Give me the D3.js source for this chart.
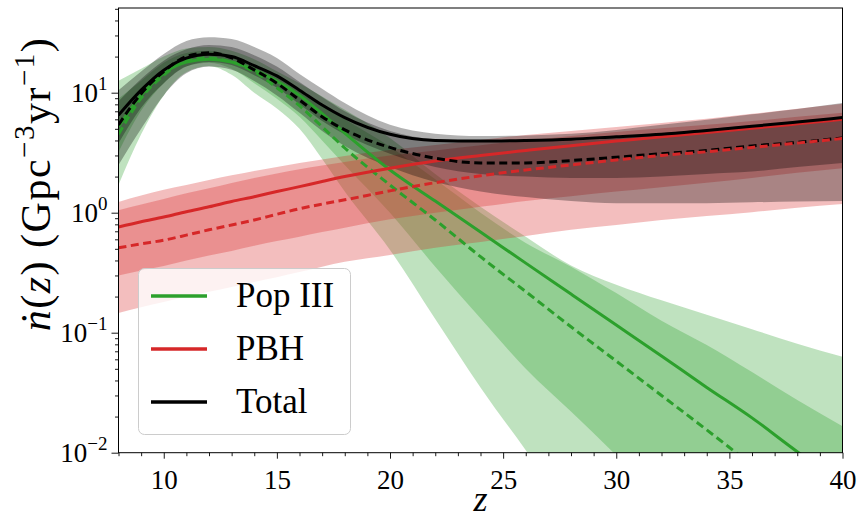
<!DOCTYPE html>
<html>
<head>
<meta charset="utf-8">
<script src="https://cdn.jsdelivr.net/npm/d3@7"></script>
<style>
  body { margin: 0; background: #fff; }
</style>
</head>
<body>
<svg id="chart" width="860" height="519"></svg>
<script>
// redshift grid the curves were read on
const zGrid = [8, 9, 10, 11, 12, 13, 14, 15, 16, 17, 18, 20, 22, 24, 26, 28, 30, 32, 34, 36, 38, 40];

// Pop III
const pop3Solid  = [5.2, 9.5, 14.5, 18, 19, 18, 15.5, 12.5, 9.5, 6.7, 4.6, 2.27, 1.25, 0.69, 0.38, 0.21, 0.116, 0.064, 0.035, 0.0195, 0.0102, 0.0056];
const pop3Dashed = [4.5, 9, 14, 18.5, 19.5, 18, 15, 11, 7.8, 5.2, 3.46, 1.7, 0.87, 0.43, 0.22, 0.112, 0.058, 0.030, 0.0155, 0.0079, 0.0041, 0.0021];
const pop3Lo68   = [3.2, 7.1, 12, 16.6, 17.8, 15.8, 12, 8.9, 6.3, 4.0, 2.5, 1.0, 0.355, 0.132, 0.05, 0.022, 0.0095, 0.004, 0.0016, 0.0006, 0.0003, 0.0001];
const pop3Hi68   = [8.9, 12.6, 17.8, 21.4, 22.4, 20.4, 17, 13.5, 10.5, 7.9, 6.0, 3.55, 1.9, 1.0, 0.56, 0.355, 0.214, 0.126, 0.079, 0.047, 0.0275, 0.0166];
const pop3Lo95   = [1.7, 4.5, 9.5, 14.8, 16.6, 14.1, 10, 7.4, 5.0, 2.8, 1.5, 0.49, 0.13, 0.035, 0.0105, 0.0032, 0.001, 0.0003, 0.0001, 0.0001, 0.0001, 0.0001];
const pop3Hi95   = [12.6, 15.8, 20, 23.4, 24, 22.4, 19, 15.1, 12, 9.3, 7.2, 4.2, 2.1, 1.12, 0.63, 0.363, 0.251, 0.186, 0.141, 0.107, 0.081, 0.063];

// PBH
const pbhSolid  = [0.76, 0.84, 0.92, 1.02, 1.12, 1.24, 1.36, 1.5, 1.65, 1.82, 2.0, 2.35, 2.7, 3.0, 3.3, 3.62, 3.95, 4.3, 4.65, 5.05, 5.5, 6.0];
const pbhDashed = [0.51, 0.55, 0.59, 0.65, 0.72, 0.79, 0.87, 0.97, 1.08, 1.18, 1.28, 1.52, 1.78, 2.03, 2.27, 2.5, 2.75, 3.0, 3.22, 3.5, 3.8, 4.15];
const pbhLo68   = [0.3, 0.33, 0.36, 0.4, 0.44, 0.48, 0.53, 0.58, 0.63, 0.69, 0.75, 0.88, 1.0, 1.12, 1.25, 1.37, 1.5, 1.63, 1.78, 1.95, 2.15, 2.35];
const pbhHi68   = [1.05, 1.17, 1.3, 1.45, 1.6, 1.77, 1.95, 2.12, 2.3, 2.47, 2.65, 3.0, 3.3, 3.65, 4.0, 4.35, 4.7, 5.05, 5.4, 5.8, 6.3, 6.8];
const pbhLo95   = [0.146, 0.163, 0.18, 0.2, 0.219, 0.24, 0.265, 0.29, 0.32, 0.355, 0.39, 0.445, 0.51, 0.57, 0.64, 0.72, 0.79, 0.87, 0.94, 1.01, 1.1, 1.18];
const pbhHi95   = [1.23, 1.39, 1.55, 1.7, 1.87, 2.05, 2.23, 2.4, 2.6, 2.78, 2.97, 3.33, 3.66, 4.04, 4.45, 4.8, 5.18, 5.6, 6.06, 6.67, 7.34, 8.08];

// Total
const totSolid  = [6.5, 10.5, 15.4, 19.4, 20.9, 20, 16.8, 13.8, 10.5, 7.9, 6.2, 4.5, 4.0, 3.95, 4.0, 4.1, 4.3, 4.5, 4.85, 5.25, 5.7, 6.2];
const totDashed = [5.4, 9.8, 15, 20, 21.5, 19.5, 15.5, 12, 8.7, 6.3, 4.9, 3.5, 2.85, 2.6, 2.6, 2.72, 2.9, 3.1, 3.3, 3.6, 3.85, 4.2];
const totLo68   = [3.8, 7.5, 12, 16.5, 18, 17, 14, 11, 8, 5.8, 4.5, 3.1, 2.4, 2.1, 2.0, 1.95, 1.95, 2.0, 2.1, 2.2, 2.4, 2.6];
const totHi68   = [8.5, 13, 18.5, 23, 25, 24, 20.5, 16.5, 12.3, 9.2, 7.0, 4.8, 4.1, 4.0, 4.05, 4.15, 4.35, 4.6, 4.95, 5.35, 5.8, 6.3];
const totLo95   = [2.5, 5, 9.5, 14.5, 16.5, 15.5, 12.5, 9.5, 6.8, 4.8, 3.6, 2.4, 1.8, 1.5, 1.35, 1.25, 1.2, 1.2, 1.2, 1.22, 1.24, 1.25];
const totHi95   = [10.5, 15, 21, 27, 29, 28, 24, 19.5, 14.3, 10.8, 8.2, 5.4, 4.55, 4.35, 4.4, 4.55, 4.9, 5.4, 5.95, 6.6, 7.3, 8.2];

const xMajor = [10, 15, 20, 25, 30, 35, 40];
const yMajor = [0.01, 0.1, 1, 10];
const yExp = ["\u22122", "\u22121", "0", "1"];
const legendNames = ["Pop III", "PBH", "Total"];

const GREEN = "#2ca02c", RED = "#d62728", BLACK = "#000000";
const FONT = "'Liberation Serif', 'DejaVu Serif', serif";

const svg = d3.select("#chart");
const mLeft = 118.5, mRight = 842.5, mTop = 8, mBottom = 452.7;

const x = d3.scaleLinear().domain([8, 40]).range([mLeft, mRight]);
const y = d3.scaleLog().domain([0.01, 50.8]).range([mBottom, mTop]);

svg.append("defs").append("clipPath").attr("id", "plotclip")
  .append("rect").attr("x", mLeft).attr("y", mTop)
  .attr("width", mRight - mLeft).attr("height", mBottom - mTop);

const plot = svg.append("g").attr("clip-path", "url(#plotclip)");

function rows(lo, hi) {
  return zGrid.map((z, i) => ({ z: z, lo: lo[i], hi: hi[i] }));
}
function pts(vals) {
  return zGrid.map((z, i) => ({ z: z, v: vals[i] }));
}

const area = d3.area()
  .x(d => x(d.z)).y0(d => y(d.lo)).y1(d => y(d.hi))
  .curve(d3.curveMonotoneX);
const line = d3.line()
  .x(d => x(d.z)).y(d => y(d.v))
  .curve(d3.curveMonotoneX);

// bands: 95% then 68%, each at alpha 0.3
const bands = [
  [pop3Lo95, pop3Hi95, GREEN], [pop3Lo68, pop3Hi68, GREEN],
  [pbhLo95, pbhHi95, RED], [pbhLo68, pbhHi68, RED],
  [totLo95, totHi95, BLACK], [totLo68, totHi68, BLACK]
];
bands.forEach(b => {
  plot.append("path").datum(rows(b[0], b[1]))
    .attr("d", area).attr("fill", b[2]).attr("fill-opacity", 0.3);
});

const lines = [
  [pop3Solid, GREEN, null], [pop3Dashed, GREEN, "8,4.5"],
  [pbhSolid, RED, null], [totSolid, BLACK, null],
  [totDashed, BLACK, "8,4.5"], [pbhDashed, RED, "8,4.5"]
];
lines.forEach(l => {
  plot.append("path").datum(pts(l[0]))
    .attr("d", line).attr("fill", "none")
    .attr("stroke", l[1]).attr("stroke-width", 3)
    .attr("stroke-dasharray", l[2]);
});

// x axis
const xMinor = d3.range(8, 41).filter(v => !xMajor.includes(v));
svg.append("g").attr("transform", `translate(0,${mBottom})`)
  .call(d3.axisBottom(x).tickValues(xMinor).tickSize(3.5).tickSizeOuter(0).tickFormat(""))
  .call(g => g.select(".domain").remove());
const gx = svg.append("g").attr("transform", `translate(0,${mBottom})`)
  .call(d3.axisBottom(x).tickValues(xMajor).tickSize(6).tickSizeOuter(0).tickPadding(6))
  .call(g => g.select(".domain").remove());
gx.selectAll("text").attr("font-size", 27).attr("fill", "#000").attr("dy", "0.9em");

// y axis
const yMinor = [];
[0.01, 0.1, 1, 10].forEach(d => { for (let k = 2; k <= 9; k++) if (d * k <= 50.8) yMinor.push(d * k); });
svg.append("g").attr("transform", `translate(${mLeft},0)`)
  .call(d3.axisLeft(y).tickValues(yMinor).tickSize(3.5).tickSizeOuter(0).tickFormat(""))
  .call(g => g.select(".domain").remove());
const gy = svg.append("g").attr("transform", `translate(${mLeft},0)`)
  .call(d3.axisLeft(y).tickValues(yMajor).tickSize(7).tickSizeOuter(0).tickFormat(""))
  .call(g => g.select(".domain").remove());
gy.selectAll(".tick").each(function(d, i) {
  const t = d3.select(this).append("text")
    .attr("x", -11).attr("y", 9).attr("text-anchor", "end")
    .attr("font-size", 27).attr("fill", "#000");
  t.append("tspan").text("10");
  t.append("tspan").attr("font-size", 19).attr("dy", -12).text(yExp[i]);
});
svg.selectAll(".tick line").attr("stroke", "#000").attr("stroke-width", 0.9);

// frame
svg.append("rect").attr("x", mLeft).attr("y", mTop)
  .attr("width", mRight - mLeft).attr("height", mBottom - mTop)
  .attr("fill", "none").attr("stroke", "#000").attr("stroke-width", 1);

// axis labels
svg.append("text").attr("x", (mLeft + mRight) / 2).attr("y", 511)
  .attr("text-anchor", "middle").attr("font-size", 36).attr("font-style", "italic").text("z");

const yl = svg.append("text").attr("transform", "translate(50,184) rotate(-90)")
  .attr("text-anchor", "middle").attr("font-size", 42).attr("letter-spacing", 1.5);
yl.append("tspan").attr("font-style", "italic").text("\u1E45");
yl.append("tspan").text("(");
yl.append("tspan").attr("font-style", "italic").text("z");
yl.append("tspan").text(") (Gpc");
yl.append("tspan").attr("font-size", 29).attr("dy", -16).text("\u22123");
yl.append("tspan").attr("dy", 16).text("yr");
yl.append("tspan").attr("font-size", 29).attr("dy", -16).text("\u22121");
yl.append("tspan").attr("dy", 16).text(")");

// legend
const lg = svg.append("g");
lg.append("rect").attr("x", 138.5).attr("y", 268.5).attr("width", 212).attr("height", 166)
  .attr("rx", 6).attr("fill", "#fff").attr("fill-opacity", 0.8)
  .attr("stroke", "#cccccc").attr("stroke-width", 1);
[GREEN, RED, BLACK].forEach((c, i) => {
  const ly = 296 + i * 53;
  lg.append("line").attr("x1", 151).attr("x2", 207).attr("y1", ly).attr("y2", ly)
    .attr("stroke", c).attr("stroke-width", 3.3);
  lg.append("text").attr("x", 236).attr("y", ly + 11).attr("font-size", 35).text(legendNames[i]);
});

svg.selectAll("text").style("font-family", FONT);
</script>
</body>
</html>
